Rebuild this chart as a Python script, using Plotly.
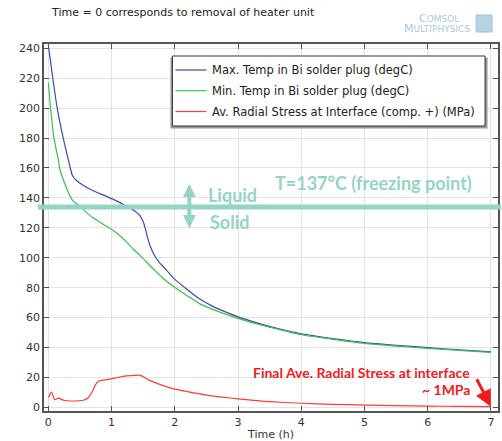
import plotly.graph_objects as go

# ---------------- data ----------------
t_max = [0, 0.035, 0.07, 0.14, 0.235, 0.35, 0.38, 0.45, 0.55, 0.7, 0.92, 1.1, 1.21, 1.3,
         1.39, 1.45, 1.5, 1.53, 1.56, 1.6, 1.66, 1.75, 1.87, 2.0, 2.18, 2.39, 2.6, 2.8,
         3.0, 3.3, 3.6, 4.0, 4.5, 5.0, 5.5, 6.0, 6.5, 7.0]
max_temp = [242, 231, 220, 200, 180, 159.5, 155, 151.5, 148.5, 145, 141, 137.5, 135, 133,
            130.5, 128, 124, 120, 115, 109, 103, 97, 91.6, 85.5, 79.3, 72.5, 67.5, 63.8,
            60.5, 56.5, 53, 49.2, 46, 43.3, 41.5, 39.9, 38.4, 37.1]

t_min = [0, 0.035, 0.09, 0.16, 0.18, 0.26, 0.33, 0.39, 0.51, 0.62, 0.75, 0.92, 1.05, 1.21,
         1.35, 1.45, 1.6, 1.71, 1.85, 2.03, 2.2, 2.39, 2.6, 2.8, 3.0, 3.3, 3.6, 4.0, 4.5,
         5.0, 5.5, 6.0, 6.5, 7.0]
min_temp = [217, 200, 179.6, 165, 159.5, 149.5, 142.5, 138, 134, 129.5, 125.5, 121, 117.5,
            111.6, 105.5, 101.6, 95, 90.4, 85, 79.3, 74.5, 69.3, 65.5, 62.3, 59.5, 55.7,
            52.5, 48.5, 45.4, 42.7, 40.9, 39.4, 38, 36.7]

t_stress = [0, 0.05, 0.1, 0.16, 0.2, 0.24, 0.39, 0.55, 0.62, 0.66, 0.7, 0.74, 0.78, 0.82,
            0.92, 1.05, 1.18, 1.3, 1.45, 1.52, 1.6, 1.75, 1.97, 2.2, 2.5, 2.75, 3.0, 3.5,
            4.0, 4.5, 5.0, 5.5, 6.0, 6.5, 7.0]
stress = [6.5, 10.2, 5.1, 6.2, 5.5, 4.7, 4.2, 4.7, 6, 8, 11, 14.7, 17, 17.8, 18.5, 19.5,
          20.7, 21.2, 21.4, 20, 18, 15.5, 12.5, 10.5, 8.2, 6.8, 5.7, 3.8, 2.7, 2.0, 1.5,
          1.1, 0.8, 0.6, 0.4]

freezing_line = 134
x_ticks = [0, 1, 2, 3, 4, 5, 6, 7]
y_ticks = list(range(0, 241, 20))

names = ["Max. Temp in Bi solder plug (degC)",
         "Min. Temp in Bi solder plug (degC)",
         "Av. Radial Stress at Interface (comp. +) (MPa)"]
colors = ["#3a4cae", "#3cbf4a", "#ff3b3b"]

# ---------------- layout geometry ----------------
W, H = 502, 441
ML, MR, MT, MB = 44, 2, 44, 30
PW, PH = W - ML - MR, H - MT - MB


def px(x):
    return (x - ML) / PW


def py(y):
    return (H - MB - y) / PH


fig = go.Figure()
for tx, vy, nm, c in zip([t_max, t_min, t_stress], [max_temp, min_temp, stress], names, colors):
    fig.add_trace(go.Scatter(x=tx, y=vy, mode="lines", name=nm, showlegend=False,
                             line=dict(color=c, width=1.2, shape="spline", smoothing=0.5)))

teal = "#93d4c7"
red = "#f21c1c"
shapes = []
# freezing line
shapes.append(dict(type="line", xref="paper", yref="y", x0=px(38), x1=px(503),
                   y0=freezing_line, y1=freezing_line, line=dict(color=teal, width=5),
                   layer="above"))
# double arrow (decoration)
ax = 190
pts = [(ax, 184), (ax - 6.5, 197), (ax - 2, 197), (ax - 2, 215), (ax - 6.5, 215),
       (ax, 228.5), (ax + 6.5, 215), (ax + 2, 215), (ax + 2, 197), (ax + 6.5, 197)]
path = "M " + " L ".join(f"{px(a):.5f},{py(b):.5f}" for a, b in pts) + " Z"
shapes.append(dict(type="path", xref="paper", yref="paper", path=path,
                   fillcolor=teal, line=dict(width=0), layer="above"))
# legend box with shadow
shapes.append(dict(type="rect", xref="paper", yref="paper", x0=px(171), x1=px(489.5),
                   y0=py(128.5), y1=py(57.5), fillcolor="#9a9a9a", line=dict(width=0),
                   layer="above"))
shapes.append(dict(type="rect", xref="paper", yref="paper", x0=px(173), x1=px(487),
                   y0=py(126), y1=py(56), fillcolor="white", line=dict(color="#333", width=1),
                   layer="above"))
legend_rows = [70, 90.7, 111.5]
for yy, c in zip(legend_rows, colors):
    shapes.append(dict(type="line", xref="paper", yref="paper", x0=px(176), x1=px(207),
                       y0=py(yy), y1=py(yy), line=dict(color=c, width=1.2), layer="above"))
# COMSOL logo cube (decoration)
shapes.append(dict(type="rect", xref="paper", yref="paper", x0=px(478), x1=px(494),
                   y0=py(32), y1=py(15), fillcolor="#b5d3e3", line=dict(color="#9cc3d8", width=1),
                   layer="above"))

annotations = [
    dict(text="Time = 0 corresponds to removal of heater unit", xref="paper", yref="paper",
         x=px(49), y=py(13), xanchor="left", yanchor="middle", showarrow=False,
         font=dict(family="DejaVu Sans", size=11, color="#222")),
    dict(text="C<span style='font-size:9px'>OMSOL</span>", xref="paper", yref="paper",
         x=px(463), y=py(18), xanchor="right", yanchor="middle", showarrow=False,
         font=dict(family="DejaVu Sans", size=11, color="#a9c9db")),
    dict(text="M<span style='font-size:9px'>ULTIPHYSICS</span>", xref="paper", yref="paper",
         x=px(474), y=py(28), xanchor="right", yanchor="middle", showarrow=False,
         font=dict(family="DejaVu Sans", size=11, color="#a9c9db")),
    dict(text="Liquid", xref="paper", yref="paper", x=px(207), y=py(195), xanchor="left",
         yanchor="middle", showarrow=False,
         font=dict(family="Lato", size=18, color=teal, weight="bold")),
    dict(text="Solid", xref="paper", yref="paper", x=px(209), y=py(222), xanchor="left",
         yanchor="middle", showarrow=False,
         font=dict(family="Lato", size=18, color=teal, weight="bold")),
    dict(text="T=137°C (freezing point)", xref="paper", yref="paper", x=px(274), y=py(183),
         xanchor="left", yanchor="middle", showarrow=False,
         font=dict(family="Lato", size=18, color=teal, weight="bold")),
    dict(text="Final Ave. Radial Stress at interface", xref="paper", yref="paper",
         x=px(474), y=py(372), xanchor="right", yanchor="middle", showarrow=False,
         font=dict(family="Lato", size=14, color=red, weight="bold")),
    dict(text="~ 1MPa", xref="paper", yref="paper", x=px(474), y=py(389),
         xanchor="right", yanchor="middle", showarrow=False,
         font=dict(family="Lato", size=14, color=red, weight="bold")),
    dict(text="", x=7.0, y=0.4, xref="x", yref="y", showarrow=True, ax=-15, ay=-29,
         arrowhead=2, arrowsize=1.1, arrowwidth=3, arrowcolor=red),
]
for yy, nm in zip(legend_rows, names):
    annotations.append(dict(text=nm, xref="paper", yref="paper", x=px(211), y=py(yy),
                            xanchor="left", yanchor="middle", showarrow=False,
                            font=dict(family="DejaVu Sans", size=11.5, color="#222")))

axis_common = dict(showgrid=True, gridcolor="#e4e4e4", gridwidth=1, showline=True,
                   linecolor="#555", linewidth=1.5, mirror="ticks", ticks="inside",
                   ticklen=5, tickcolor="#555", zeroline=False,
                   tickfont=dict(family="DejaVu Sans", size=11, color="#333"))

fig.update_layout(
    width=W, height=H, margin=dict(l=ML, r=MR, t=MT, b=MB),
    paper_bgcolor="white", plot_bgcolor="white",
    xaxis=dict(range=[-0.069, 7.111], tickvals=x_ticks, **axis_common,
               title=dict(text="Time (h)", standoff=2,
                          font=dict(family="DejaVu Sans", size=11, color="#333"))),
    yaxis=dict(range=[-2.47, 242.9], tickvals=y_ticks, **axis_common),
    showlegend=False,
    shapes=shapes, annotations=annotations,
)

fig.write_html("out.html")
